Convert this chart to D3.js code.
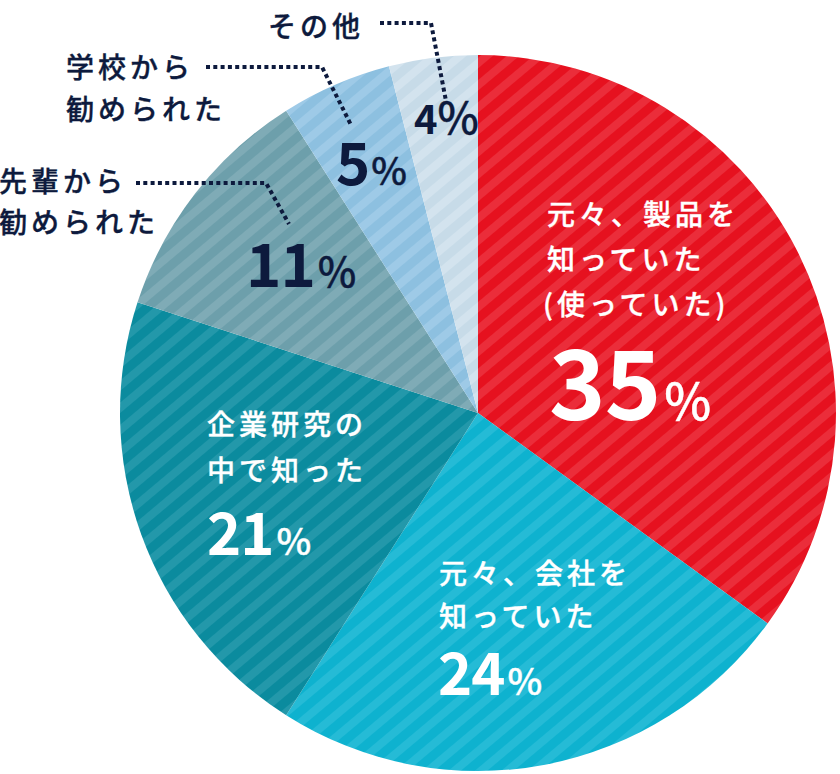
<!DOCTYPE html>
<html>
<head>
<meta charset="utf-8">
<script src="https://cdn.jsdelivr.net/npm/d3@7"></script>
<style>
  html, body { margin: 0; padding: 0; background: #fff; }
  svg { display: block; }
  text { font-family: "Noto Sans CJK JP", "Noto Sans", sans-serif; }
</style>
</head>
<body>
<svg id="chart" width="840" height="774"></svg>
<script>
// ---- data ----
const categories = ["元々、製品を知っていた(使っていた)", "元々、会社を知っていた", "企業研究の中で知った", "先輩から勧められた", "学校から勧められた", "その他"];
const values = [35, 24, 21, 11, 5, 4];
const baseColors = ["#e6111f", "#0eb2cf", "#0b8b9e", "#6d9fab", "#8dc0e0", "#c7dbe8"];
const stripeColors = ["#eb2d3a", "#25bbd6", "#2398aa", "#7fabb6", "#9ecae7", "#d3e3ee"];

// label text lines
const labelLines = [
  ["元々、製品を", "知っていた", "(使っていた)"],
  ["元々、会社を", "知っていた"],
  ["企業研究の", "中で知った"],
  ["先輩から", "勧められた"],
  ["学校から", "勧められた"],
  ["その他"]
];

const svg = d3.select("#chart");
const cx = 478, cy = 413, R = 358;
const navy = "#0d1a3d";

// stripe patterns
const defs = svg.append("defs");
values.forEach((v, i) => {
  const p = defs.append("pattern")
    .attr("id", "pat" + i)
    .attr("patternUnits", "userSpaceOnUse")
    .attr("width", 40).attr("height", 17)
    .attr("patternTransform", "rotate(-40)");
  p.append("rect").attr("width", 40).attr("height", 17).attr("fill", baseColors[i]);
  p.append("rect").attr("width", 40).attr("height", 8).attr("fill", stripeColors[i]);
});

const pie = d3.pie().sort(null).value(d => d)(values);
const arc = d3.arc().innerRadius(0).outerRadius(R);

const g = svg.append("g").attr("transform", `translate(${cx},${cy})`);
g.selectAll("path.slice").data(pie).join("path")
  .attr("class", "slice")
  .attr("d", arc)
  .attr("fill", (d, i) => `url(#pat${i})`);

// ---- text labels ----
function multiline(x, y0, lines, lh, size, color, ls) {
  lines.forEach((t, k) => {
    svg.append("text")
      .attr("x", x).attr("y", y0 + k * lh)
      .attr("font-size", size)
      .attr("font-weight", 500)
      .attr("letter-spacing", ls)
      .attr("fill", color)
      .attr("stroke", color)
      .attr("stroke-width", 0.35)
      .text(t);
  });
}
function pct(x, y, num, numSize, pctSize, color, gap) {
  const t = svg.append("text")
    .attr("x", x).attr("y", y).attr("fill", color);
  t.append("tspan").attr("font-size", numSize).attr("font-weight", 700)
    .attr("letter-spacing", -1).text(num);
  t.append("tspan").attr("font-size", pctSize).attr("font-weight", 500)
    .attr("stroke", color).attr("stroke-width", 0.4)
    .attr("dx", gap).text("%");
}

// inside labels (white)
multiline(547, 225, labelLines[0].slice(0, 2), 45, 28, "#fff", 4);
multiline(543, 315, labelLines[0].slice(2), 45, 28, "#fff", 4);
pct(549, 420, values[0], 96, 50, "#fff", 4);

multiline(439, 584, labelLines[1], 43, 28, "#fff", 4);
pct(438, 695, values[1], 58, 37, "#fff", 3);

multiline(207, 435, labelLines[2], 46, 28, "#fff", 4);
pct(207, 555, values[2], 58, 37, "#fff", 3);

pct(246, 287, values[3], 60, 41, navy, 3);
pct(336, 185, values[4], 58, 38, navy, 2);
pct(414, 134, values[5], 40, 44, navy, 1);

// outside labels (navy)
multiline(-1, 192, labelLines[3], 41, 28, navy, 4);
multiline(66, 78, labelLines[4], 42, 28, navy, 4);
multiline(268, 37, labelLines[5], 42, 28, navy, 4);

// leader lines
const leaders = [
  [[136, 183], [266, 183], [289, 224]],
  [[206, 67], [322, 67], [351, 125]],
  [[380, 23], [431, 23], [446, 101]]
];
leaders.forEach(pts => {
  svg.append("path")
    .attr("d", d3.line()(pts))
    .attr("fill", "none")
    .attr("stroke", navy)
    .attr("stroke-width", 4)
    .attr("stroke-dasharray", "4 3.3");
});
</script>
</body>
</html>
